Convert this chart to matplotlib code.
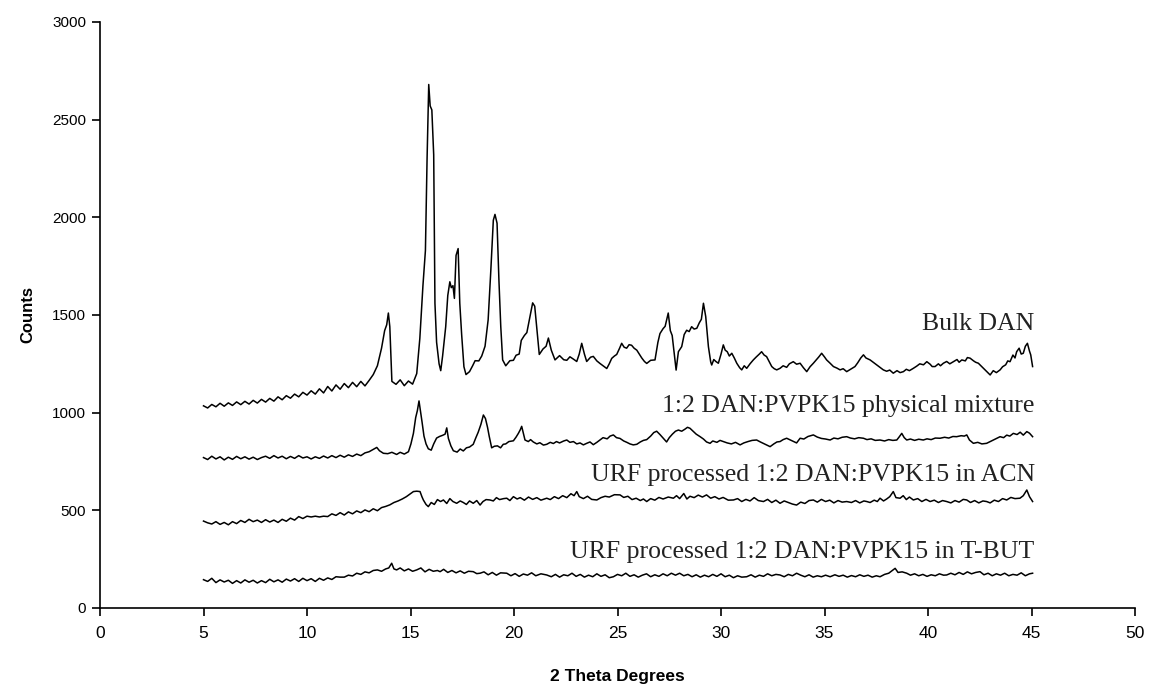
import matplotlib
matplotlib.use("Agg")
import matplotlib.pyplot as plt

# ---- data (2 theta in degrees, counts) ----
bulk_2theta = [5.0, 5.2, 5.4, 5.6, 5.8, 6.0, 6.2, 6.4, 6.6, 6.8, 7.0, 7.2, 7.4, 7.6, 7.8, 8.0, 8.2, 8.4, 8.6, 8.8,
               9.0, 9.2, 9.4, 9.6, 9.8, 10.0, 10.2, 10.4, 10.6, 10.8, 11.0, 11.2, 11.4, 11.6, 11.8, 12.0, 12.2, 12.4,
               12.6, 12.8, 13.0, 13.2, 13.4, 13.6, 13.75, 13.85, 13.93, 14.0, 14.05, 14.1, 14.3, 14.5, 14.7, 14.9,
               15.1, 15.3, 15.45, 15.6, 15.72, 15.8, 15.88, 15.95, 16.03, 16.12, 16.18, 16.26, 16.38, 16.46, 16.55,
               16.7, 16.8, 16.9, 16.97, 17.05, 17.12, 17.2, 17.3, 17.38, 17.47, 17.58, 17.68, 17.85, 18.0, 18.12,
               18.3, 18.44, 18.6, 18.75, 18.88, 19.0, 19.08, 19.18, 19.27, 19.36, 19.45, 19.6, 19.8, 19.97, 20.1,
               20.25, 20.35, 20.5, 20.62, 20.77, 20.9, 21.0, 21.12, 21.22, 21.4, 21.55, 21.66, 21.8, 21.98, 22.2,
               22.4, 22.55, 22.7, 22.87, 23.03, 23.15, 23.27, 23.4, 23.51, 23.7, 23.83, 24.0, 24.15, 24.3, 24.48,
               24.6, 24.72, 24.85, 24.96, 25.1, 25.2, 25.32, 25.44, 25.56, 25.68, 25.8, 25.93, 26.05, 26.17, 26.3,
               26.41, 26.6, 26.81, 26.95, 27.05, 27.2, 27.3, 27.45, 27.55, 27.64, 27.73, 27.83, 27.94, 28.1, 28.22,
               28.34, 28.46, 28.58, 28.7, 28.83, 28.95, 29.05, 29.15, 29.26, 29.39, 29.5, 29.55, 29.65, 29.75,
               29.87, 30.0, 30.11, 30.2, 30.3, 30.4, 30.52, 30.64, 30.76, 30.9, 31.0, 31.12, 31.24, 31.4, 31.56,
               31.7, 31.85, 31.96, 32.08, 32.2, 32.32, 32.45, 32.57, 32.69, 32.85, 33.0, 33.17, 33.3, 33.49, 33.65,
               33.82, 33.98, 34.14, 34.3, 34.46, 34.6, 34.72, 34.86, 35.0, 35.1, 35.25, 35.43, 35.6, 35.75, 35.9,
               36.07, 36.25, 36.47, 36.6, 36.75, 36.88, 37.0, 37.2, 37.35, 37.52, 37.68, 37.84, 38.0, 38.15, 38.32,
               38.5, 38.65, 38.81, 38.95, 39.1, 39.29, 39.45, 39.6, 39.78, 39.94, 40.1, 40.2, 40.34, 40.5, 40.6,
               40.74, 40.9, 41.05, 41.22, 41.4, 41.5, 41.63, 41.8, 41.9, 42.03, 42.2, 42.3, 42.43, 42.6, 42.75,
               42.88, 43.0, 43.15, 43.3, 43.48, 43.6, 43.75, 43.85, 43.96, 44.1, 44.2, 44.28, 44.4, 44.5, 44.6,
               44.7, 44.8, 44.9, 44.96, 45.05]
bulk_counts = [1035, 1024, 1042, 1030, 1048, 1033, 1050, 1037, 1055, 1041, 1058, 1044, 1063, 1049, 1068, 1054, 1073,
               1059, 1081, 1066, 1087, 1074, 1095, 1081, 1104, 1090, 1112, 1095, 1122, 1101, 1134, 1111, 1142, 1120,
               1149, 1128, 1155, 1133, 1160, 1137, 1165, 1195, 1240, 1330, 1420, 1450, 1510, 1440, 1300, 1160, 1145,
               1168, 1138, 1162, 1146, 1200, 1380, 1650, 1830, 2300, 2680, 2570, 2550, 2320, 1560, 1360, 1250, 1215,
               1290, 1440, 1600, 1670, 1640, 1650, 1585, 1805, 1840, 1560, 1400, 1235, 1195, 1210, 1240, 1266, 1265,
               1290, 1340, 1475, 1730, 1985, 2015, 1970, 1680, 1440, 1270, 1240, 1266, 1268, 1294, 1300, 1370, 1395,
               1410, 1490, 1562, 1545, 1410, 1298, 1326, 1340, 1382, 1320, 1270, 1292, 1271, 1268, 1286, 1274, 1262,
               1300, 1355, 1300, 1262, 1284, 1288, 1265, 1252, 1240, 1226, 1250, 1278, 1290, 1298, 1330, 1355, 1335,
               1330, 1348, 1345, 1330, 1320, 1300, 1280, 1262, 1252, 1268, 1270, 1360, 1405, 1430, 1442, 1510, 1420,
               1395, 1312, 1218, 1312, 1338, 1400, 1422, 1415, 1440, 1428, 1432, 1460, 1478, 1560, 1492, 1338, 1260,
               1244, 1272, 1262, 1253, 1300, 1347, 1320, 1312, 1290, 1304, 1280, 1253, 1230, 1219, 1240, 1227, 1250,
               1270, 1285, 1300, 1312, 1295, 1287, 1262, 1236, 1225, 1219, 1227, 1240, 1232, 1250, 1261, 1248, 1253,
               1230, 1210, 1235, 1253, 1270, 1285, 1304, 1285, 1270, 1255, 1236, 1228, 1219, 1225, 1210, 1222, 1236,
               1255, 1280, 1296, 1280, 1270, 1258, 1244, 1232, 1219, 1212, 1218, 1202, 1215, 1205, 1210, 1222, 1215,
               1227, 1238, 1250, 1245, 1261, 1248, 1236, 1236, 1250, 1240, 1253, 1262, 1250, 1261, 1272, 1258, 1270,
               1265, 1282, 1279, 1265, 1258, 1253, 1235, 1219, 1205, 1193, 1215, 1205, 1219, 1235, 1245, 1265, 1261,
               1295, 1280, 1312, 1330, 1300, 1304, 1340, 1355, 1315, 1296, 1236]

mix_2theta = [5.0, 5.2, 5.4, 5.6, 5.8, 6.0, 6.2, 6.4, 6.6, 6.8, 7.0, 7.2, 7.4, 7.6, 7.8, 8.0, 8.2, 8.4, 8.6, 8.8,
              9.0, 9.2, 9.4, 9.6, 9.8, 10.0, 10.2, 10.4, 10.6, 10.8, 11.0, 11.2, 11.4, 11.6, 11.8, 12.0, 12.2, 12.4,
              12.6, 12.8, 13.0, 13.2, 13.37, 13.5, 13.69, 13.9, 14.1, 14.33, 14.5, 14.7, 14.9, 15.02, 15.14, 15.25,
              15.33, 15.41, 15.48, 15.56, 15.65, 15.75, 15.86, 16.0, 16.12, 16.26, 16.4, 16.55, 16.67, 16.75, 16.83,
              16.95, 17.07, 17.25, 17.4, 17.55, 17.7, 17.85, 18.03, 18.15, 18.27, 18.4, 18.52, 18.62, 18.72, 18.8,
              18.92, 19.05, 19.2, 19.35, 19.48, 19.6, 19.75, 19.97, 20.1, 20.21, 20.3, 20.37, 20.45, 20.53, 20.69,
              20.8, 20.93, 21.1, 21.25, 21.42, 21.58, 21.75, 21.9, 22.05, 22.2, 22.4, 22.55, 22.7, 22.87, 23.03,
              23.19, 23.35, 23.51, 23.67, 23.83, 24.0, 24.15, 24.3, 24.5, 24.64, 24.8, 24.95, 25.12, 25.3, 25.45,
              25.6, 25.76, 25.93, 26.1, 26.25, 26.41, 26.6, 26.75, 26.89, 27.05, 27.2, 27.37, 27.5, 27.65, 27.8,
              27.94, 28.1, 28.25, 28.38, 28.5, 28.65, 28.8, 28.99, 29.15, 29.3, 29.47, 29.6, 29.8, 29.95, 30.11,
              30.3, 30.5, 30.7, 30.92, 31.1, 31.3, 31.5, 31.72, 31.9, 32.1, 32.37, 32.55, 32.7, 32.85, 33.0, 33.17,
              33.35, 33.5, 33.65, 33.82, 34.0, 34.2, 34.46, 34.65, 34.85, 35.05, 35.27, 35.45, 35.65, 35.85, 36.07,
              36.25, 36.45, 36.65, 36.88, 37.05, 37.25, 37.45, 37.68, 37.9, 38.1, 38.3, 38.49, 38.6, 38.73, 38.85,
              38.97, 39.15, 39.35, 39.55, 39.77, 39.95, 40.15, 40.35, 40.58, 40.8, 41.0, 41.2, 41.38, 41.6, 41.75,
              41.87, 42.0, 42.19, 42.4, 42.6, 42.83, 43.0, 43.2, 43.48, 43.65, 43.8, 43.95, 44.12, 44.3, 44.45,
              44.6, 44.77, 44.9, 45.05]
mix_counts = [770, 760, 777, 763, 774, 758, 772, 761, 776, 764, 774, 762, 772, 760, 770, 777, 766, 780, 768, 777,
              764, 776, 766, 780, 768, 774, 763, 774, 766, 778, 768, 780, 770, 782, 772, 784, 776, 788, 780, 794,
              800, 812, 822, 805, 792, 790, 797, 786, 797, 788, 800, 840, 894, 975, 1010, 1060, 1010, 950, 880, 840,
              815, 808, 840, 870, 878, 884, 890, 922, 868, 830, 805, 798, 814, 804, 820, 824, 838, 870, 900, 940,
              988, 970, 925, 880, 820, 828, 830, 820, 838, 840, 852, 856, 875, 894, 912, 930, 895, 860, 852, 862,
              850, 840, 846, 834, 838, 848, 842, 852, 845, 855, 860, 848, 852, 840, 845, 835, 843, 850, 836, 848,
              860, 872, 866, 880, 886, 872, 868, 855, 848, 840, 835, 838, 850, 858, 862, 880, 898, 905, 888, 870,
              850, 872, 890, 905, 911, 905, 915, 925, 920, 905, 890, 877, 865, 850, 843, 855, 848, 858, 852, 845,
              840, 848, 835, 845, 852, 858, 860, 850, 840, 826, 840, 850, 852, 862, 869, 860, 852, 845, 869, 865,
              878, 886, 875, 868, 865, 860, 870, 866, 874, 877, 870, 866, 872, 869, 862, 866, 858, 860, 855, 862,
              858, 860, 875, 894, 872, 860, 865, 858, 864, 860, 866, 862, 870, 869, 874, 870, 878, 877, 882, 880,
              886, 860, 843, 848, 840, 843, 852, 862, 877, 872, 885, 880, 894, 888, 900, 885, 903, 895, 877]

acn_2theta = [5.0, 5.2, 5.4, 5.6, 5.8, 6.0, 6.2, 6.4, 6.6, 6.8, 7.0, 7.2, 7.4, 7.6, 7.8, 8.0, 8.2, 8.4, 8.6, 8.8,
              9.0, 9.2, 9.4, 9.6, 9.8, 10.0, 10.2, 10.4, 10.6, 10.8, 11.0, 11.2, 11.4, 11.6, 11.8, 12.0, 12.2, 12.4,
              12.6, 12.8, 13.0, 13.2, 13.4, 13.6, 13.8, 14.0, 14.2, 14.4, 14.6, 14.8, 15.0, 15.14, 15.3, 15.46,
              15.55, 15.62, 15.75, 15.86, 16.0, 16.15, 16.3, 16.45, 16.59, 16.75, 16.9, 17.05, 17.23, 17.4, 17.55,
              17.7, 17.85, 18.03, 18.2, 18.36, 18.5, 18.65, 18.84, 19.0, 19.15, 19.3, 19.5, 19.65, 19.8, 19.97,
              20.15, 20.3, 20.5, 20.7, 20.9, 21.1, 21.3, 21.58, 21.75, 21.95, 22.15, 22.35, 22.55, 22.75, 22.9,
              23.03, 23.15, 23.35, 23.55, 23.75, 24.0, 24.2, 24.4, 24.6, 24.85, 25.12, 25.3, 25.5, 25.7, 25.9,
              26.1, 26.25, 26.41, 26.6, 26.8, 27.0, 27.2, 27.45, 27.7, 27.85, 28.0, 28.2, 28.35, 28.5, 28.7, 28.9,
              29.1, 29.3, 29.5, 29.7, 29.9, 30.1, 30.35, 30.6, 30.8, 31.0, 31.2, 31.4, 31.6, 31.8, 32.05, 32.25,
              32.45, 32.65, 32.85, 33.05, 33.25, 33.45, 33.65, 33.85, 34.05, 34.25, 34.46, 34.65, 34.85, 35.05,
              35.25, 35.45, 35.65, 35.85, 36.07, 36.3, 36.5, 36.7, 36.9, 37.04, 37.2, 37.4, 37.55, 37.68, 37.85,
              38.0, 38.15, 38.32, 38.45, 38.65, 38.8, 38.95, 39.1, 39.29, 39.5, 39.7, 39.9, 40.1, 40.3, 40.5, 40.7,
              40.9, 41.1, 41.3, 41.5, 41.7, 41.87, 42.05, 42.25, 42.45, 42.65, 42.83, 43.0, 43.2, 43.4, 43.6, 43.8,
              44.0, 44.2, 44.44, 44.6, 44.77, 44.9, 45.05]
acn_counts = [445, 436, 430, 442, 428, 438, 426, 442, 432, 448, 438, 454, 442, 450, 438, 452, 440, 450, 438, 454,
              444, 460, 450, 468, 458, 470, 466, 470, 466, 470, 468, 482, 474, 488, 476, 492, 482, 497, 488, 502,
              493, 508, 498, 514, 520, 528, 540, 548, 558, 570, 585, 596, 598, 596, 570, 553, 530, 519, 540, 530,
              555, 545, 553, 535, 560, 545, 536, 548, 540, 530, 548, 536, 550, 527, 545, 555, 553, 548, 565, 555,
              560, 562, 550, 570, 558, 565, 552, 568, 556, 565, 552, 562, 555, 570, 560, 575, 565, 585, 575, 596,
              570, 560, 572, 556, 553, 565, 572, 568, 580, 579, 566, 572, 555, 562, 550, 558, 545, 560, 552, 566,
              558, 568, 562, 575, 560, 586, 558, 572, 565, 578, 568, 579, 562, 570, 558, 566, 552, 553, 560, 545,
              556, 548, 565, 550, 545, 556, 540, 552, 536, 548, 540, 532, 527, 542, 535, 550, 553, 542, 556, 545,
              552, 538, 550, 542, 545, 540, 550, 538, 548, 545, 540, 552, 545, 562, 548, 558, 570, 596, 565, 562,
              575, 555, 568, 553, 560, 545, 556, 545, 552, 540, 550, 545, 538, 550, 542, 556, 553, 540, 550, 538,
              548, 545, 538, 552, 545, 560, 553, 566, 560, 562, 575, 604, 570, 545]

tbut_2theta = [5.0, 5.2, 5.4, 5.6, 5.8, 6.0, 6.2, 6.4, 6.6, 6.8, 7.0, 7.2, 7.4, 7.6, 7.8, 8.0, 8.2, 8.4, 8.6, 8.8,
               9.0, 9.2, 9.4, 9.6, 9.8, 10.0, 10.2, 10.4, 10.6, 10.8, 11.0, 11.2, 11.4, 11.6, 11.8, 12.0, 12.2, 12.4,
               12.6, 12.8, 13.0, 13.2, 13.4, 13.6, 13.8, 13.95, 14.09, 14.2, 14.33, 14.5, 14.7, 14.9, 15.1, 15.3,
               15.5, 15.7, 15.9, 16.1, 16.3, 16.43, 16.6, 16.8, 17.0, 17.2, 17.4, 17.6, 17.8, 18.03, 18.2, 18.36,
               18.55, 18.75, 18.95, 19.15, 19.35, 19.65, 19.85, 20.05, 20.25, 20.45, 20.65, 20.85, 21.05, 21.3,
               21.58, 21.8, 22.0, 22.2, 22.4, 22.6, 22.8, 23.0, 23.2, 23.4, 23.6, 23.8, 24.0, 24.2, 24.4, 24.6,
               24.8, 25.0, 25.2, 25.4, 25.6, 25.8, 26.0, 26.2, 26.4, 26.6, 26.8, 27.0, 27.2, 27.4, 27.6, 27.8,
               28.0, 28.2, 28.4, 28.6, 28.8, 29.0, 29.2, 29.4, 29.6, 29.8, 30.0, 30.2, 30.4, 30.6, 30.8, 31.0,
               31.24, 31.45, 31.65, 31.85, 32.05, 32.25, 32.45, 32.65, 32.85, 33.05, 33.25, 33.45, 33.65, 33.85,
               34.05, 34.25, 34.45, 34.65, 34.85, 35.05, 35.27, 35.5, 35.7, 35.9, 36.1, 36.3, 36.5, 36.7, 36.9,
               37.1, 37.3, 37.5, 37.68, 37.9, 38.1, 38.25, 38.41, 38.55, 38.75, 38.97, 39.15, 39.35, 39.55, 39.75,
               39.95, 40.15, 40.35, 40.55, 40.75, 40.9, 41.1, 41.3, 41.5, 41.7, 41.9, 42.1, 42.3, 42.51, 42.7, 42.9,
               43.1, 43.3, 43.5, 43.7, 43.9, 44.1, 44.3, 44.5, 44.7, 44.9, 45.05]
tbut_counts = [145, 136, 152, 130, 144, 133, 142, 126, 140, 128, 144, 132, 142, 128, 140, 130, 147, 134, 144, 132,
               148, 138, 150, 136, 152, 140, 150, 136, 152, 142, 154, 146, 160, 158, 158, 168, 164, 178, 172, 185,
               180, 192, 195, 188, 200, 205, 229, 200, 195, 205, 190, 200, 188, 195, 205, 185, 198, 188, 192, 186,
               198, 182, 192, 180, 190, 178, 188, 186, 176, 178, 185, 170, 182, 168, 180, 178, 165, 176, 162, 174,
               168, 180, 165, 175, 169, 160, 172, 158, 170, 165, 178, 162, 172, 158, 168, 160, 175, 162, 170, 155,
               160, 172, 165, 178, 162, 170, 158, 168, 175, 160, 170, 162, 175, 165, 178, 168, 178, 165, 172, 160,
               170, 158, 168, 160, 172, 162, 175, 160, 168, 155, 165, 158, 160, 170, 158, 168, 162, 175, 165, 172,
               169, 160, 172, 165, 178, 168, 160, 170, 158, 165, 160, 168, 160, 170, 162, 168, 158, 166, 160, 170,
               162, 168, 158, 165, 160, 172, 178, 190, 203, 182, 185, 178, 168, 175, 165, 172, 162, 170, 165, 175,
               168, 169, 178, 170, 182, 172, 185, 175, 182, 186, 170, 178, 165, 175, 168, 178, 165, 172, 168, 180,
               165, 175, 178]

trace_labels = ["Bulk DAN",
                "1:2 DAN:PVPK15 physical mixture",
                "URF processed 1:2 DAN:PVPK15 in ACN",
                "URF processed 1:2 DAN:PVPK15 in T-BUT"]
label_2theta = 45.15
label_counts = [1425, 1005, 650, 255]

x_ticks = [0, 5, 10, 15, 20, 25, 30, 35, 40, 45, 50]
y_ticks = [0, 500, 1000, 1500, 2000, 2500, 3000]

fig = plt.figure(figsize=(11.52, 6.87), dpi=100)
ax = fig.add_axes([0.0868, 0.115, 0.8985, 0.853])

for xs, ys in [(bulk_2theta, bulk_counts), (mix_2theta, mix_counts),
               (acn_2theta, acn_counts), (tbut_2theta, tbut_counts)]:
    ax.plot(xs, ys, color="black", linewidth=1.1)

for txt, yc in zip(trace_labels, label_counts):
    ax.text(label_2theta, yc, txt, ha="right", va="baseline",
            fontsize=18.5, family=["Liberation Serif", "DejaVu Serif"], color="#222222")

ax.set_xlim(0, 50)
ax.set_ylim(0, 3000)
ax.set_xticks(x_ticks)
ax.set_yticks(y_ticks)

for s in ["top", "right"]:
    ax.spines[s].set_visible(False)
for s in ["left", "bottom"]:
    ax.spines[s].set_linewidth(1.2)
    ax.spines[s].set_color("black")

ax.tick_params(direction="out", length=6, width=1.2, colors="black")
ax.tick_params(axis="y", labelsize=11, pad=4)
ax.tick_params(axis="x", labelsize=12.5, pad=7)
for lab in ax.get_yticklabels():
    lab.set_family(["Liberation Sans", "DejaVu Sans"])
for lab in ax.get_xticklabels():
    lab.set_family(["Liberation Sans", "DejaVu Sans"])

ax.set_ylabel("Counts", fontsize=12, fontweight="bold",
              family=["Liberation Sans", "DejaVu Sans"], labelpad=12)
ax.set_xlabel("2 Theta Degrees", fontsize=12.5, fontweight="bold",
              family=["Liberation Sans", "DejaVu Sans"], labelpad=20)

fig.savefig("out.png", dpi=100)
